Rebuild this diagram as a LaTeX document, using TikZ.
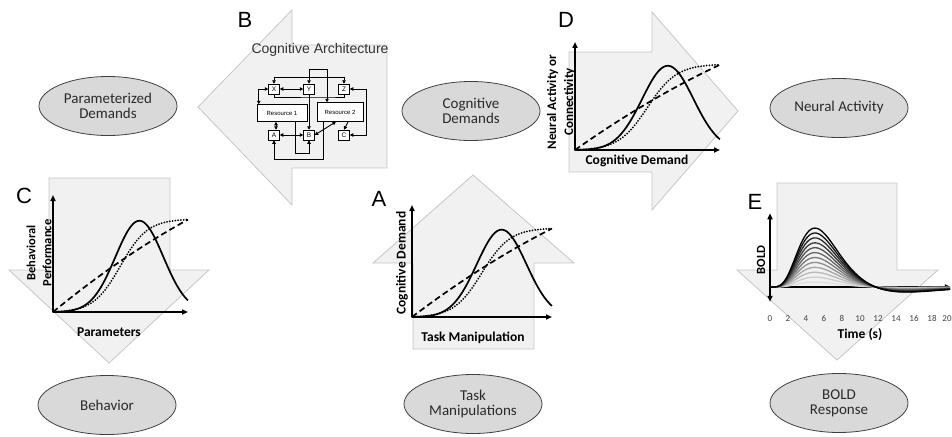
\documentclass[tikz,border=0pt]{standalone}
\usepackage{fontspec}
\setmainfont{Carlito}
\newfontfamily\arialfont{Liberation Sans}
\usetikzlibrary{arrows.meta,shapes.geometric}
\definecolor{arrowfill}{HTML}{F1F1F1}
\definecolor{arrowedge}{HTML}{C6C6C6}
\definecolor{ovalfill}{HTML}{D9D9D9}
\definecolor{ovaltext}{HTML}{2A2A2A}
\tikzset{
  bigarrow/.style={fill=arrowfill, draw=arrowedge, line width=0.8pt, line join=miter},
  oval/.style={ellipse, fill=ovalfill, draw=black!75, line width=0.8pt, minimum width=138pt,
    minimum height=59pt, inner sep=0pt, align=center, text=ovaltext, font=\fontsize{15}{15}\selectfont},
  panel/.style={inner sep=0pt, font=\arialfont\fontsize{22}{22}\selectfont},
  axis/.style={line width=1.7pt, -{Triangle[length=6pt,width=5pt]}},
  axlab/.style={inner sep=0pt, align=center, font=\bfseries\fontsize{13.5}{16}\selectfont},
  solidcurve/.style={line width=1.7pt},
  dotcurve/.style={line width=2pt, line cap=round, dash pattern=on 0pt off 2.8pt},
  dashcurve/.style={line width=1.7pt, dash pattern=on 6pt off 3.5pt},
  archbox/.style={draw, fill=white, line width=0.5pt, inner sep=0pt, minimum width=11pt,
    minimum height=10pt, font=\arialfont\fontsize{6.5}{6.5}\selectfont},
  resbox/.style={archbox, minimum width=50pt, minimum height=17pt, font=\arialfont\fontsize{6}{6}\selectfont},
  arc/.style={line width=0.9pt, -{Triangle[length=3.5pt,width=3.5pt]}},
  twoarc/.style={arc, {Triangle[length=3.5pt,width=3.5pt]}-{Triangle[length=3.5pt,width=3.5pt]}},
  ticklab/.style={inner sep=0pt, text=black!75, font=\fontsize{9}{9}\selectfont}
}
% one curve set, drawn in unit coordinates
\newcommand\demandcurves{%
  \draw[dashcurve] plot[domain=0:1,samples=40,smooth] (\x,{0.79*(1.2*\x-0.2*\x*\x)});
  \draw[dotcurve] plot[domain=0:1,samples=60,smooth] (\x,{0.8/(1+exp(-(\x-0.5)/0.1))-0.005});
  \draw[solidcurve] plot[domain=0:1,samples=60,smooth] (\x,{0.78*exp(-(\x-0.64)*(\x-0.64)/0.0625)});
  \draw[axis] (0,0) -- (0,1);
  \draw[axis] (0,0) -- (1,0);
}
\begin{document}
\begin{tikzpicture}[x=1pt,y=-1pt]
\useasboundingbox (0,0) rectangle (952,436);

% big arrows
\draw[bigarrow] (198,107) -- (292,10) -- (292,45) -- (387,45) -- (387,168) -- (292,168) -- (292,205) -- cycle;
\draw[bigarrow] (738,111) -- (652,12) -- (652,52) -- (569,52) -- (569,172) -- (652,172) -- (652,210) -- cycle;
\draw[bigarrow] (109,363) -- (9,270) -- (49,270) -- (49,178) -- (170,178) -- (170,270) -- (209,270) -- cycle;
\draw[bigarrow] (473,175) -- (574,263) -- (534,263) -- (534,349) -- (413,349) -- (413,263) -- (373,263) -- cycle;
\draw[bigarrow] (837,360) -- (737,270) -- (777,270) -- (777,183) -- (897,183) -- (897,270) -- (938,270) -- cycle;

% ovals
\node[oval] (paramdem) at (108,106) {Parameterized\\Demands};
\node[oval] (cogdem) at (471,111) {Cognitive\\Demands};
\node[oval] (neural) at (839,108) {Neural Activity};
\node[oval] (behav) at (107,405) {Behavior};
\node[oval] (taskman) at (473,404) {Task\\Manipulations};
\node[oval] (boldresp) at (839,403) {BOLD\\Response};

% panel letters
\node[panel] (labA) at (379,199) {A};
\node[panel] (labB) at (245,20) {B};
\node[panel] (labC) at (24,196) {C};
\node[panel] (labD) at (566,20) {D};
\node[panel] (labE) at (755,202) {E};

% B: cognitive architecture
\node[inner sep=0pt, text=black!80, font=\arialfont\fontsize{14}{14}\selectfont] (archtitle) at (320,50) {Cognitive Architecture};
\node[archbox] (X) at (274,89) {X};
\node[archbox] (Y) at (309,89) {Y};
\node[archbox] (Z) at (344,89) {Z};
\node[resbox] (R1) at (282,113) {Resource 1};
\node[resbox, minimum width=46pt, minimum height=19pt] (R2) at (340,112) {Resource 2};
\node[archbox] (A) at (274,135) {A};
\node[archbox] (B) at (309,135) {B};
\node[archbox] (C) at (344,135) {C};
\coordinate (bus) at (0,77);
\coordinate (loop) at (327,69);
\coordinate (mid) at (327,97);
\draw[twoarc] (X) -- (Y);
\draw[twoarc] (A) -- (B);
\draw[twoarc] (X.north) -- (X.north |- bus) -- (Z.north |- bus) -- (Z.north);
\draw[arc] (loop) -| (Y.north);
\draw[arc] (loop) -- (loop |- R2.north);
\draw[line width=0.9pt] (X.south) |- (mid) -| (Z.south);
\draw[arc] (Y.south) -- (B.north);
\draw[twoarc] (X.west) -| ([xshift=2pt]R1.north west);
\draw[twoarc] (Z.east) -- ++(17,0) |- (C.east);
\draw[twoarc] ([xshift=2pt]A.north) -- ([xshift=-6pt]R1.south);
\draw[twoarc] (B.east) -- ([xshift=-4pt]R2.south);
\draw[arc] ([xshift=8pt]R2.south) -- (C.north);
\draw[arc] ([xshift=13pt]R1.south) -- ++(0,32) -| (B.south);
\draw[arc] ([xshift=-17pt]R2.south) -- ++(0,38) -| (A.south);

% C: behaviour chart
\begin{scope}[shift={(53,312)}, x=135pt, y=117pt]
\demandcurves
\end{scope}
\node[axlab, rotate=90, font=\bfseries\fontsize{12.5}{16}\selectfont] (perf) at (39,253) {Behavioral\\Performance};
\node[axlab] (params) at (109,332) {Parameters};

% A: task manipulation chart
\begin{scope}[shift={(412,317)}, x=140pt, y=112pt]
\demandcurves
\end{scope}
\node[axlab, rotate=90] (cogdemA) at (402,263) {Cognitive Demand};
\node[axlab] (taskax) at (473,338) {Task Manipulation};

% D: neural activity chart
\begin{scope}[shift={(575,150)}, x=145pt, y=108pt]
\demandcurves
\end{scope}
\node[axlab, rotate=90, font=\bfseries\fontsize{13}{17}\selectfont] (neurax) at (561,102) {Neural Activity or\\Connectivity};
\node[axlab] (cogdemD) at (637,161) {Cognitive Demand};

% E: BOLD responses
\begin{scope}[shift={(770,287)}, x=9pt, y=59pt]
\draw[axis] (0,0) -- (20.1,0);
\foreach \k in {1,...,12}{
  \pgfmathtruncatemacro\shade{12+88*(\k-1)/11}
  \draw[black!\shade, line width=1.3pt] plot[domain=0.05:20,samples=90,smooth]
    (\x,{\k/12*(exp(5*(1-\x/5+ln(\x/5)))-0.1*exp(12*(1-\x/14+ln(\x/14))))});
}
\draw[line width=1.7pt, {Triangle[length=6pt,width=5pt]}-{Triangle[length=6pt,width=5pt]}] (0,-0.25) -- (0,1.25);
\foreach \t in {0,2,...,18}
  \node[ticklab] (tick\t) at (\t,-0.53) {\t};
\node[ticklab, anchor=east] (tick20) at (20.2,-0.53) {20};
\end{scope}
\node[axlab, rotate=90, font=\bfseries\fontsize{12.5}{14}\selectfont] (boldax) at (761,260) {BOLD};
\node[axlab] (timeax) at (860,335) {Time (s)};
\end{tikzpicture}
\end{document}
